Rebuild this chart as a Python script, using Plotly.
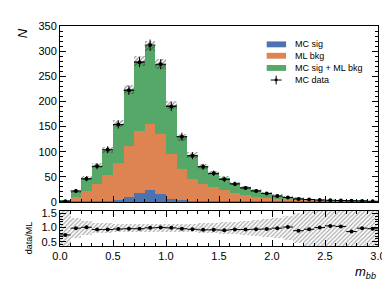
import plotly.graph_objects as go

# ---------------- data ----------------
bin_centers = [round(0.05 + 0.1 * i, 2) for i in range(30)]
bin_width = 0.1

data_counts = [1.5, 22, 46, 71, 104, 154, 222, 278, 312, 274, 190, 130, 92, 70, 57,
               45, 36, 28, 22, 17, 12, 9, 6, 5, 4, 3.5, 3, 2.5, 2, 1.5]
data_err = [1.2, 4, 5, 6, 7, 8, 9, 10, 11, 10, 9, 8, 7, 6, 5.5,
            5, 4.5, 4, 3.5, 3, 2.5, 2.2, 2, 1.8, 1.5, 1.5, 1.3, 1.2, 1.1, 1]
total_counts = [2, 21, 47, 72, 103, 156, 224, 280, 311, 274, 192, 129, 93, 71, 58,
                47, 37, 29, 23, 17.5, 12.5, 9, 7, 5.3, 4.1, 3.4, 2.9, 2.7, 2.1, 1.6]
total_err = [1, 3, 4, 5, 6, 7, 8.5, 9.5, 10, 9.5, 8, 7, 6, 5, 4.5,
             4, 3.5, 3, 3, 2.5, 2.5, 2, 2, 1.5, 1.5, 1.2, 1.2, 1, 1, 1]
bkg_counts = [1, 10, 21, 36, 53, 78, 112, 141, 155, 136, 95, 65, 46, 36, 30,
              23, 18, 14, 10, 8, 6, 5, 3.5, 2.5, 2, 1.5, 1.2, 1, 0.8, 0.6]
sig_counts = [0.2, 0.3, 0.5, 0.8, 1.5, 3, 9.5, 17, 24.5, 15, 5, 2, 1, 0.5, 0.3,
              0.2, 0.1, 0.1, 0.1, 0.1, 0.1, 0.1, 0.1, 0.1, 0.1, 0.1, 0.1, 0.1, 0.1, 0.1]

ratio = [0.74, 0.98, 1.01, 0.93, 0.93, 0.95, 0.96, 0.96, 0.99, 1.0, 0.99, 0.96, 0.94, 0.92, 0.92,
         0.91, 0.93, 0.93, 0.94, 0.95, 0.98, 1.02, 0.89, 0.94, 1.0, 1.06, 1.04, 0.86, 0.98, 0.96]
ratio_err = [0.04, 0.03, 0.02, 0.02, 0.02, 0.02, 0.02, 0.02, 0.02, 0.02, 0.02, 0.02, 0.02, 0.02, 0.02,
             0.02, 0.02, 0.02, 0.02, 0.02, 0.02, 0.02, 0.02, 0.02, 0.02, 0.02, 0.02, 0.02, 0.02, 0.02]
ratio_band = [1.0, 0.36, 0.23, 0.18, 0.16, 0.14, 0.13, 0.13, 0.13, 0.13, 0.13, 0.14, 0.15, 0.16, 0.18,
              0.2, 0.22, 0.24, 0.27, 0.31, 0.36, 0.43, 0.52, 0.68, 1.0, 1.0, 1.0, 1.0, 1.0, 1.0]

labels = ["MC sig", "ML bkg", "MC sig + ML bkg", "MC data"]
colors = ["#4C72B0", "#DD8452", "#55A868"]

FONT = "Liberation Sans, Arial, Helvetica, sans-serif"

fig = go.Figure()

# main panel: overlaid histograms
for vals, col in [(total_counts, colors[2]), (bkg_counts, colors[1]), (sig_counts, colors[0])]:
    fig.add_trace(go.Bar(x=bin_centers, y=vals, width=bin_width, marker=dict(color=col, line=dict(width=0)),
                         showlegend=False, xaxis="x", yaxis="y"))

# hatched uncertainty on total
fig.add_trace(go.Bar(
    x=bin_centers, y=[2 * e for e in total_err], base=[t - e for t, e in zip(total_counts, total_err)],
    width=bin_width,
    marker=dict(color="rgba(235,235,235,0.85)", line=dict(width=0),
                pattern=dict(shape="/", fgcolor="#222222", bgcolor="rgba(0,0,0,0)", size=3, solidity=0.4,
                             fillmode="overlay")),
    showlegend=False, xaxis="x", yaxis="y"))

# data points
fig.add_trace(go.Scatter(
    x=bin_centers, y=data_counts, mode="markers",
    marker=dict(color="black", size=4),
    error_y=dict(type="data", array=data_err, color="black", thickness=1, width=0),
    error_x=dict(type="constant", value=bin_width / 2, color="black", thickness=1, width=0),
    showlegend=False, xaxis="x", yaxis="y"))

# ratio panel band
fig.add_trace(go.Bar(
    x=bin_centers, y=[2 * e for e in ratio_band], base=[1 - e for e in ratio_band], width=bin_width,
    marker=dict(color="rgba(215,215,215,0.85)", line=dict(width=0),
                pattern=dict(shape="/", fgcolor="#555555", bgcolor="rgba(0,0,0,0)", size=3, solidity=0.4,
                             fillmode="overlay")),
    showlegend=False, xaxis="x2", yaxis="y2"))

fig.add_trace(go.Scatter(
    x=bin_centers, y=ratio, mode="markers",
    marker=dict(color="black", size=4),
    error_y=dict(type="data", array=ratio_err, color="black", thickness=1, width=0),
    error_x=dict(type="constant", value=bin_width / 2, color="black", thickness=1, width=0),
    showlegend=False, xaxis="x2", yaxis="y2"))

tickfont = dict(family=FONT, size=11, color="black")
axis_common = dict(showline=True, linecolor="black", linewidth=1, ticks="inside", tickcolor="black",
                   ticklen=6, tickwidth=1, tickfont=tickfont, showgrid=False, zeroline=False)

fig.update_layout(
    width=390, height=293,
    margin=dict(l=52, r=18, t=14, b=55),
    paper_bgcolor="white", plot_bgcolor="white",
    barmode="overlay", bargap=0,
    font=dict(family=FONT, color="black"),
    showlegend=False,
    xaxis=dict(domain=[0, 1], range=[0, 3], anchor="y", matches="x2", showticklabels=False,
               mirror=True, dtick=0.5, minor=dict(ticks="inside", dtick=0.1, ticklen=3, tickcolor="black"),
               **axis_common),
    yaxis=dict(domain=[0.2, 1], range=[0, 350], dtick=50, mirror="ticks",
               minor=dict(ticks="inside", dtick=10, ticklen=3, tickcolor="black"), **axis_common),
    xaxis2=dict(domain=[0, 1], range=[0, 3], anchor="y2", dtick=0.5, tickformat=".1f", mirror="ticks",
                minor=dict(ticks="inside", dtick=0.1, ticklen=3, tickcolor="black"), **axis_common),
    yaxis2=dict(domain=[0, 0.161], range=[0.35, 1.6], tickvals=[0.5, 1.0, 1.5], ticktext=["0.5", "1.0", "1.5"],
                mirror="ticks", minor=dict(ticks="inside", dtick=0.1, ticklen=3, tickcolor="black"),
                anchor="x2", **axis_common),
)

# legend (manual)
def px2paper_x(px):
    return (px - 52) / 320.0

def px2paper_y(py):
    return (238 - py) / 224.0

rows = [32.7, 44.3, 56.7, 69]
for i in range(3):
    col = [colors[0], colors[1], colors[2]][i]
    fig.add_shape(type="rect", xref="paper", yref="paper",
                  x0=px2paper_x(260), x1=px2paper_x(279.5),
                  y0=px2paper_y(rows[i] + 3), y1=px2paper_y(rows[i] - 3),
                  fillcolor=col, line=dict(width=0))
# data marker in legend
fig.add_shape(type="line", xref="paper", yref="paper", x0=px2paper_x(264), x1=px2paper_x(275),
              y0=px2paper_y(rows[3]), y1=px2paper_y(rows[3]), line=dict(color="black", width=1))
fig.add_shape(type="line", xref="paper", yref="paper", x0=px2paper_x(269.5), x1=px2paper_x(269.5),
              y0=px2paper_y(rows[3] - 4.5), y1=px2paper_y(rows[3] + 4.5), line=dict(color="black", width=1))
fig.add_shape(type="circle", xref="paper", yref="paper", x0=px2paper_x(268), x1=px2paper_x(271),
              y0=px2paper_y(rows[3] + 1.5), y1=px2paper_y(rows[3] - 1.5), fillcolor="black",
              line=dict(color="black", width=0))
for i, lab in enumerate(labels):
    fig.add_annotation(xref="paper", yref="paper", x=px2paper_x(286), y=px2paper_y(rows[i]),
                       text=lab, showarrow=False, xanchor="left", yanchor="middle",
                       font=dict(family=FONT, size=9, color="black"))

# axis titles
fig.add_annotation(xref="paper", yref="paper", x=1.0, y=px2paper_y(265), text="<i>m</i><sub><i>bb</i></sub>",
                   showarrow=False, xanchor="right", yanchor="middle",
                   font=dict(family=FONT, size=13, color="black"))
fig.add_annotation(xref="paper", yref="paper", x=px2paper_x(14), y=px2paper_y(14), text="<i>N</i>",
                   textangle=-90, showarrow=False, xanchor="center", yanchor="top",
                   font=dict(family=FONT, size=13, color="black"))
fig.add_annotation(xref="paper", yref="paper", x=px2paper_x(21), y=px2paper_y(230), text="data/ML",
                   textangle=-90, showarrow=False, xanchor="center", yanchor="middle",
                   font=dict(family=FONT, size=9, color="black"))

fig.write_html("out.html")
